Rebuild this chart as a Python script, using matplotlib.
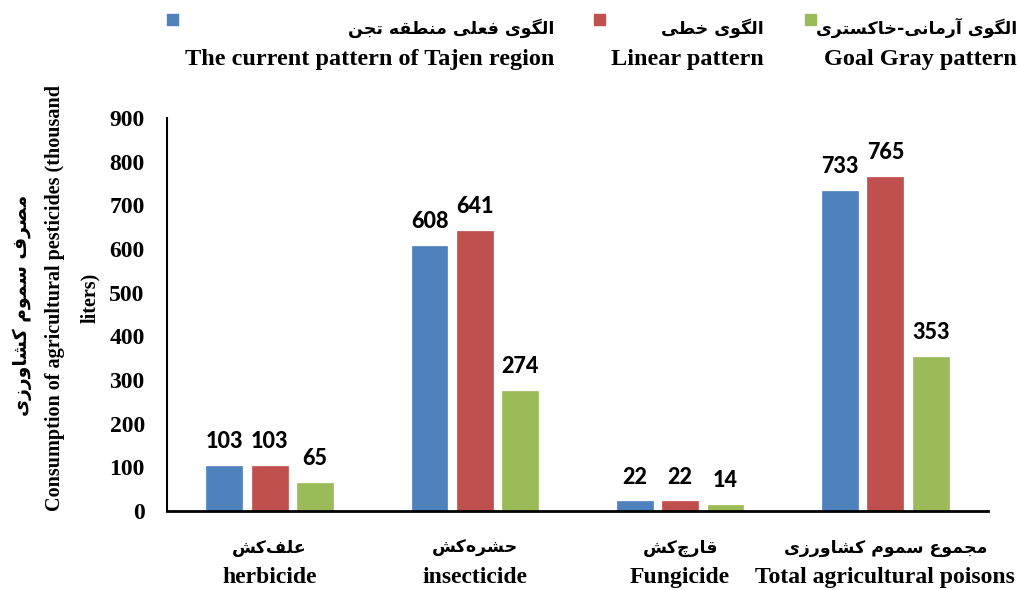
import matplotlib
matplotlib.use('Agg')
import matplotlib.pyplot as plt
from matplotlib.patches import Rectangle
import numpy as np

# Data
categories_fa = ['علف‌کش', 'حشره‌کش', 'قارچ‌کش', 'مجموع سموم کشاورزی']
categories_en = ['herbicide', 'insecticide', 'Fungicide', 'Total agricultural poisons']
series_fa = ['الگوی فعلی منطقه تجن', 'الگوی خطی', 'الگوی آرمانی-خاکستری']
series_en = ['The current pattern of Tajen region', 'Linear pattern', 'Goal Gray pattern']
current = [103, 608, 22, 733]
linear = [103, 641, 22, 765]
goal_gray = [65, 274, 14, 353]
yticks = [0, 100, 200, 300, 400, 500, 600, 700, 800, 900]

colors = ['#4F81BD', '#C0504D', '#9BBB59']

# Minimal Persian shaping (matplotlib has no bidi / joining support)
FORMS = {
    'ا': ('\uFE8D', '\uFE8E', None, None),
    'آ': ('\uFE81', '\uFE82', None, None),
    'ر': ('\uFEAD', '\uFEAE', None, None),
    'ز': ('\uFEAF', '\uFEB0', None, None),
    'و': ('\uFEED', '\uFEEE', None, None),
    'ل': ('\uFEDD', '\uFEDE', '\uFEDF', '\uFEE0'),
    'گ': ('\uFB92', '\uFB93', '\uFB94', '\uFB95'),
    'ی': ('\uFBFC', '\uFBFD', '\uFBFE', '\uFBFF'),
    'ف': ('\uFED1', '\uFED2', '\uFED3', '\uFED4'),
    'ع': ('\uFEC9', '\uFECA', '\uFECB', '\uFECC'),
    'م': ('\uFEE1', '\uFEE2', '\uFEE3', '\uFEE4'),
    'ن': ('\uFEE5', '\uFEE6', '\uFEE7', '\uFEE8'),
    'ط': ('\uFEC1', '\uFEC2', '\uFEC3', '\uFEC4'),
    'ق': ('\uFED5', '\uFED6', '\uFED7', '\uFED8'),
    'ه': ('\uFEE9', '\uFEEA', '\uFEEB', '\uFEEC'),
    'ت': ('\uFE95', '\uFE96', '\uFE97', '\uFE98'),
    'ج': ('\uFE9D', '\uFE9E', '\uFE9F', '\uFEA0'),
    'خ': ('\uFEA5', '\uFEA6', '\uFEA7', '\uFEA8'),
    'ک': ('\uFB8E', '\uFB8F', '\uFB90', '\uFB91'),
    'س': ('\uFEB1', '\uFEB2', '\uFEB3', '\uFEB4'),
    'ش': ('\uFEB5', '\uFEB6', '\uFEB7', '\uFEB8'),
    'ص': ('\uFEB9', '\uFEBA', '\uFEBB', '\uFEBC'),
    'ح': ('\uFEA1', '\uFEA2', '\uFEA3', '\uFEA4'),
    'چ': ('\uFB7A', '\uFB7B', '\uFB7C', '\uFB7D'),
}


def fa(text):
    out = []
    for i, ch in enumerate(text):
        if ch not in FORMS:
            if ch != '\u200c':
                out.append(ch)
            continue
        iso, fin, ini, med = FORMS[ch]
        prev = text[i - 1] if i > 0 else ''
        nxt = text[i + 1] if i + 1 < len(text) else ''
        join_prev = prev in FORMS and FORMS[prev][2] is not None
        join_next = ini is not None and nxt in FORMS
        if join_prev and join_next:
            out.append(med)
        elif join_prev:
            out.append(fin)
        elif join_next:
            out.append(ini)
        else:
            out.append(iso)
    return ''.join(reversed(out))


serif = ['Liberation Serif', 'DejaVu Serif']
persian = ['DejaVu Sans']

fig = plt.figure(figsize=(10.17, 5.9), dpi=100)
ax = fig.add_axes([0.1642, 0.1339, 0.8073, 0.6661])

x = np.arange(len(categories_en))
width = 0.175
step = 0.221
values = [current, linear, goal_gray]
for k, (vals, c) in enumerate(zip(values, colors)):
    bars = ax.bar(x + (k - 1) * step, vals, width, color=c, edgecolor=c, linewidth=0.5)
    ax.bar_label(bars, padding=10, fontsize=15.5, fontweight='black', family='Lato')

ax.set_xlim(-0.5, 3.5)
ax.set_ylim(0, 900)
ax.set_yticks(yticks)
ax.set_yticklabels([str(v) for v in yticks], family=serif, fontweight='bold', fontsize=17)
ax.tick_params(axis='y', length=0, pad=16)
ax.set_xticks(x)
ax.set_xticklabels(categories_en, family=serif, fontweight='bold', fontsize=17)
ax.tick_params(axis='x', length=0, pad=40)

for i, name in enumerate(categories_fa):
    ax.text(i, -0.094, fa(name), transform=ax.get_xaxis_transform(), ha='center', va='center',
            family=persian, fontweight='bold', fontsize=12.5)

for s in ['top', 'right']:
    ax.spines[s].set_visible(False)
ax.spines['left'].set_linewidth(1.5)
ax.spines['bottom'].set_linewidth(2)

# y axis labels (three lines)
fig.text(22 / 1017, 1 - 305 / 590, fa('مصرف سموم کشاورزی'), rotation=90, ha='center', va='center',
         family=persian, fontweight='bold', fontsize=13.5)
fig.text(55 / 1017, 1 - 298 / 590, 'Consumption of agricultural pesticides (thousand', rotation=90,
         ha='center', va='center', family=serif, fontweight='bold', fontsize=14.5)
fig.text(90 / 1017, 1 - 298 / 590, 'liters)', rotation=90, ha='center', va='center',
         family=serif, fontweight='bold', fontsize=14.5)

# legend drawn by hand: square, Persian line, English line
entry_left = [167, 594, 805]
entry_right = [554, 764, 1017]
for k in range(3):
    fig.patches.append(Rectangle((entry_left[k] / 1017, 1 - 25 / 590), 11 / 1017, 11 / 590,
                                 transform=fig.transFigure, color=colors[k]))
    fig.text(entry_right[k] / 1017, 1 - 28 / 590, fa(series_fa[k]), ha='right', va='center',
             family=persian, fontweight='bold', fontsize=12.5)
    fig.text(entry_right[k] / 1017, 1 - 60 / 590, series_en[k], ha='right', va='center',
             family=serif, fontweight='bold', fontsize=17.5)

fig.savefig('out.png', dpi=100)
